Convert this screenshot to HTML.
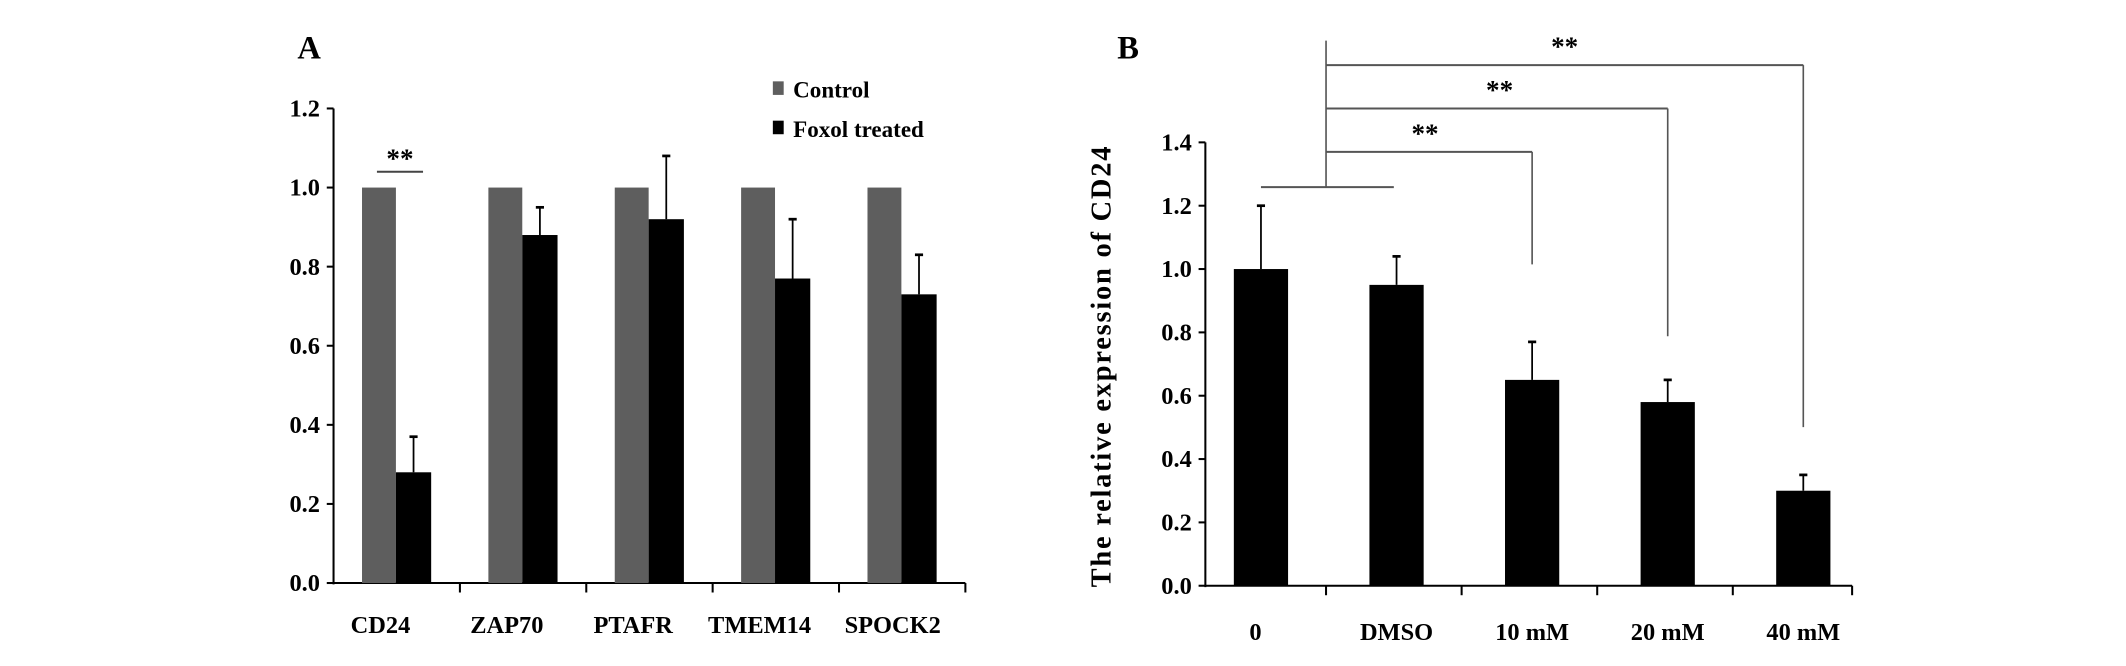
<!DOCTYPE html>
<html><head><meta charset="utf-8"><style>html,body{margin:0;padding:0;background:#fff}svg{display:block}text{font-family:"Liberation Serif",serif;font-weight:bold;fill:#000}</style></head>
<body>
<svg id="s" width="2126" height="666" viewBox="0 0 1568 491.2" xmlns="http://www.w3.org/2000/svg"></svg>
<script>
const catsA=["CD24","ZAP70","PTAFR","TMEM14","SPOCK2"];
const controlA=[1,1,1,1,1];
const treatedA=[0.28,0.88,0.92,0.77,0.73];
const errA=[0.09,0.07,0.16,0.15,0.10];
const ticksA=["0.0","0.2","0.4","0.6","0.8","1.0","1.2"];
const catsB=["0","DMSO","10 mM","20 mM","40 mM"];
const valsB=[1.0,0.95,0.65,0.58,0.30];
const errB=[0.20,0.09,0.12,0.07,0.05];
const ticksB=["0.0","0.2","0.4","0.6","0.8","1.0","1.2","1.4"];
const svg=document.getElementById('s');const NS="http://www.w3.org/2000/svg";
function mk(t,a,p){const e=document.createElementNS(NS,t);for(const k in a)e.setAttribute(k,a[k]);(p||svg).appendChild(e);return e;}
function line(x1,y1,x2,y2,c,w,n){const e=mk('line',{x1,y1,x2,y2,stroke:c||'#000','stroke-width':w||1.5});return e;}
function txt(x,y,s,fs,anchor,n,extra){const e=mk('text',Object.assign({x,y,'font-size':fs,'text-anchor':anchor||'middle'},extra||{}));e.textContent=s;return e;}
function rect(x,y,w,h,f,n){const e=mk('rect',{x,y,width:w,height:h,fill:f});return e;}
function errbar(x,y1,y2,n){line(x,y1,x,y2,'#000',1.3,n);line(x-3,y2,x+3,y2,'#000',2,n+'-cap');}
// Chart A
const ax0=246,ax1=712,ay0=430,ay1=80,amax=1.2;
const ya=v=>ay0-(v/amax)*(ay0-ay1);
const gwA=(ax1-ax0)/catsA.length;
line(ax0,ay1,ax0,ay0+1,'#000',1.5,'y-axis-a');line(ax0,ay0,ax1,ay0,'#000',1.5,'x-axis-a');
ticksA.forEach((t,i)=>{const v=parseFloat(t);line(ax0-5,ya(v),ax0,ya(v),'#000',1.5,'y-tick-a');txt(ax0-10,ya(v)+6,t,18,'end','y-tick-label-a');});
catsA.forEach((c,i)=>{const gx=ax0+i*gwA;line(gx+gwA,ay0,gx+gwA,ay0+7,'#000',1.5,'x-tick-a');
rect(gx+21,ya(controlA[i]),25,ay0-ya(controlA[i]),'#5e5e5e','bar-control-'+c);
rect(gx+46,ya(treatedA[i]),26,ay0-ya(treatedA[i]),'#000','bar-treated-'+c);
errbar(gx+59,ya(treatedA[i]),ya(treatedA[i]+errA[i]),'error-bar-'+c);
txt(gx+gwA/2-12+(i==4?5:0),467,c,18,'middle','x-label-'+c);});
line(278,ya(1.04),312,ya(1.04),'#444',1.5,'sig-line-a');txt(295,ya(1.04)-3,'**',20,'middle','sig-stars-a');
txt(228,43,'A',24,'middle','panel-a-title');
rect(570,60,8,10,'#5e5e5e','legend-control-swatch');txt(585,72,'Control',17,'start','legend-control');
rect(570,89,8,10,'#000','legend-treated-swatch');txt(585,101,'Foxol treated',17,'start','legend-treated');
// Chart B
const bx0=889,bx1=1366,by0=432,by1=105,bmax=1.4;
const yb=v=>by0-(v/bmax)*(by0-by1);
const gwB=100;
line(bx0,by1,bx0,by0+1,'#000',1.5,'y-axis-b');line(bx0,by0,bx1,by0,'#000',1.5,'x-axis-b');
ticksB.forEach(t=>{const v=parseFloat(t);line(bx0-5,yb(v),bx0,yb(v),'#000',1.5,'y-tick-b');txt(bx0-10,yb(v)+6,t,18,'end','y-tick-label-b');});
const cx=[];
catsB.forEach((c,i)=>{const x=930+i*gwB;cx.push(x);line(Math.min(x+48,bx1),by0,Math.min(x+48,bx1),by0+7,'#000',1.5,'x-tick-b');
rect(x-20,yb(valsB[i]),40,by0-yb(valsB[i]),'#000','bar-'+c);
errbar(x,yb(valsB[i]),yb(valsB[i]+errB[i]),'error-bar-'+c);
txt(x+(i==0?-4:0),472,c,18,'middle','x-label-'+c);});
txt(0,0,'The relative expression of CD24',21,'middle','y-axis-title-b',{transform:'translate(819,270) rotate(-90)','letter-spacing':'1.3'});
txt(832,43,'B',24,'middle','panel-b-title');
line(cx[0],138,cx[1]-2,138,'#555',1.5,'sig-base');line(978,30,978,138,'#555',1.2,'sig-stem');
[[2,112,195],[3,80,248],[4,48,315]].forEach(([i,y,yd])=>{const x=cx[i];line(978,y,x,y,'#555',1.5,'sig-line-'+catsB[i]);line(x,y,x,yd,'#555',1.2,'sig-drop-'+catsB[i]);txt((978+x)/2+(i==2?-3:(i==3?2:0)),y-7,'**',20,'middle','sig-stars-'+catsB[i]);});
</script>
</body></html>
